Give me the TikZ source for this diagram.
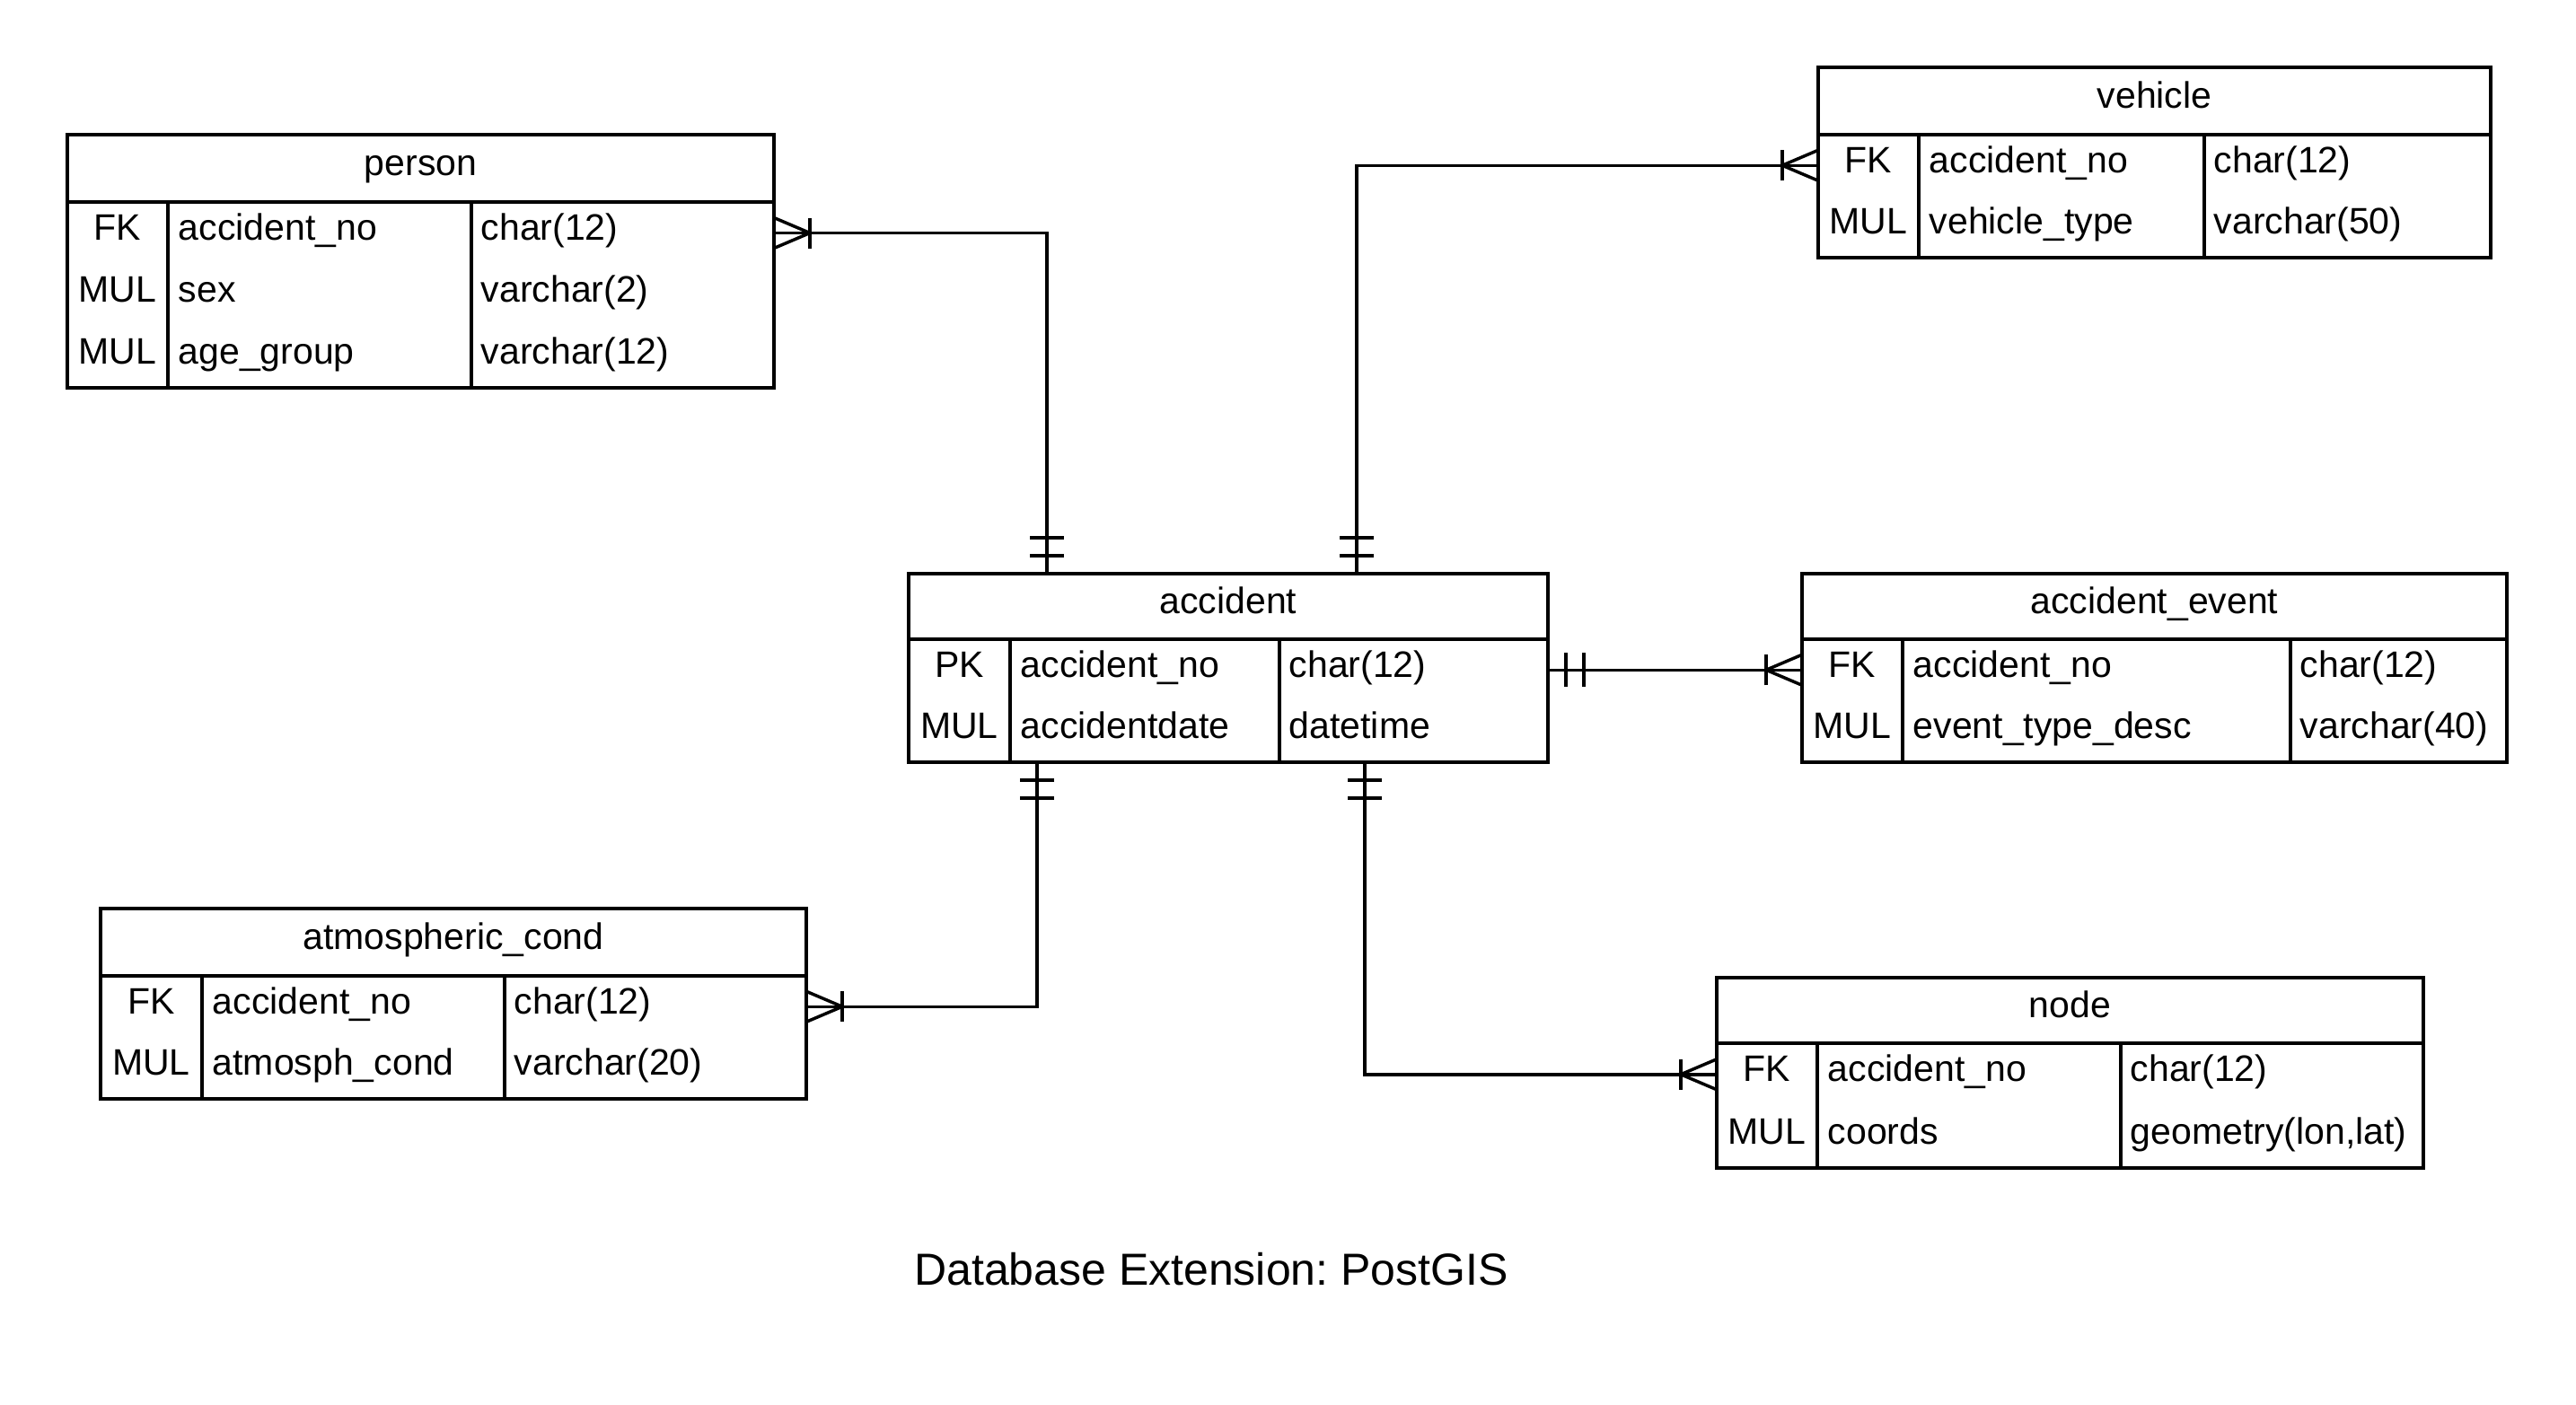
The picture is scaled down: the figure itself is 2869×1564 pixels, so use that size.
\documentclass[tikz,border=0pt]{standalone}
\usepackage{fontspec}
\setmainfont{Liberation Sans}
\frenchspacing
\newcommand\ertab[9]{% name, x1, y1, x2, y2, header bottom, col1, col2, title
  \def\curtab{#1}\def\tabxa{#2}\def\tabxb{#4}\def\tabca{#7}\def\tabcb{#8}%
  \node[tblbox, minimum width={(#4-#2)*1pt}, minimum height={(#5-#3)*1pt}] (#1) at (#2,#3) {};
  \draw (#2,#6) -- (#4,#6);
  \draw (#7,#6) -- (#7,#5);
  \draw (#8,#6) -- (#8,#5);
  \node[anchor=base] (#1-title) at ({(#2+#4)/2},{(#3+#6)/2+8}) {#9};
}
\newcommand\errow[6]{% id, ytop, ybot, key, field, type
  \node[rowbox, minimum width={(\tabxb-\tabxa)*1pt}, minimum height={(#3-#2)*1pt}] (\curtab-#1) at (\tabxa,#2) {};
  \node[anchor=base] (\curtab-#1-k) at ({(\tabxa+\tabca)/2},{(#2+#3)/2+8}) {#4};
  \node[anchor=base west] (\curtab-#1-f) at ({\tabca+10},{(#2+#3)/2+8}) {#5};
  \node[anchor=base west] (\curtab-#1-t) at ({\tabcb+9},{(#2+#3)/2+8}) {#6};
}
\tikzset{
  tblbox/.style={draw, rectangle, anchor=north west, inner sep=0pt, outer sep=0pt},
  rowbox/.style={rectangle, anchor=north west, inner sep=0pt, outer sep=0pt},
  manyone/.pic={\draw (0,-17) -- (40,0) -- (0,17); \draw (40,-17) -- (40,17);},
  oneone/.pic={\draw (20,-19) -- (20,19); \draw (40,-19) -- (40,19);}
}
\begin{document}
\begin{tikzpicture}[x=1pt, y=-1pt, line width=3.5pt, font=\fontsize{41}{49}\selectfont, every node/.style={inner sep=0pt}]
\useasboundingbox (0,0) rectangle (2869,1564);

% person
\ertab{person}{75}{150}{862}{432}{225}{187}{525}{person}
\errow{r1}{225}{294}{FK}{accident\_no}{char(12)}
\errow{r2}{294}{363}{MUL}{sex}{varchar(2)}
\errow{r3}{363}{432}{MUL}{age\_group}{varchar(12)}

% vehicle
\ertab{vehicle}{2025}{75}{2774}{287}{150}{2137}{2455}{vehicle}
\errow{r1}{150}{218.5}{FK}{accident\_no}{char(12)}
\errow{r2}{218.5}{287}{MUL}{vehicle\_type}{varchar(50)}

% accident
\ertab{accident}{1012}{639}{1724}{849}{712}{1125}{1425}{accident}
\errow{r1}{712}{780.5}{PK}{accident\_no}{char(12)}
\errow{r2}{780.5}{849}{MUL}{accidentdate}{datetime}

% accident_event
\ertab{event}{2007}{639}{2792}{849}{712}{2119}{2551}{accident\_event}
\errow{r1}{712}{780.5}{FK}{accident\_no}{char(12)}
\errow{r2}{780.5}{849}{MUL}{event\_type\_desc}{varchar(40)}

% atmospheric_cond
\ertab{atmos}{112}{1012}{898}{1224}{1087}{225}{562}{atmospheric\_cond}
\errow{r1}{1087}{1155.5}{FK}{accident\_no}{char(12)}
\errow{r2}{1155.5}{1224}{MUL}{atmosph\_cond}{varchar(20)}

% node
\ertab{nodet}{1912}{1089}{2699}{1301}{1162}{2024}{2362}{node}
\errow{r1}{1162}{1231.5}{FK}{accident\_no}{char(12)}
\errow{r2}{1231.5}{1301}{MUL}{coords}{geometry(lon,lat)}

% connector end points on accident
\coordinate (acc-t1) at ([xshift=154pt]accident.north west);
\coordinate (acc-t2) at ([xshift=499pt]accident.north west);
\coordinate (acc-b1) at ([xshift=143pt]accident.south west);
\coordinate (acc-b2) at ([xshift=508pt]accident.south west);

% connectors
\draw (person-r1.east) -| (acc-t1);
\draw (vehicle-r1.west) -| (acc-t2);
\draw (accident-r1.east) -- (event-r1.west);
\draw (acc-b1) |- (atmos-r1.east);
\draw (acc-b2) |- (nodet-r1.west);

% markers
\pic at (person-r1.east) {manyone};
\pic[rotate=180] at (vehicle-r1.west) {manyone};
\pic[rotate=180] at (event-r1.west) {manyone};
\pic at (atmos-r1.east) {manyone};
\pic[rotate=180] at (nodet-r1.west) {manyone};
\pic[rotate=90] at (acc-t1) {oneone};
\pic[rotate=90] at (acc-t2) {oneone};
\pic[rotate=-90] at (acc-b1) {oneone};
\pic[rotate=-90] at (acc-b2) {oneone};
\pic at (accident-r1.east) {oneone};

% caption
\node[anchor=base, font=\fontsize{50}{60}\selectfont] (caption) at (1349,1431) {Database Extension: PostGIS};
\end{tikzpicture}
\end{document}
